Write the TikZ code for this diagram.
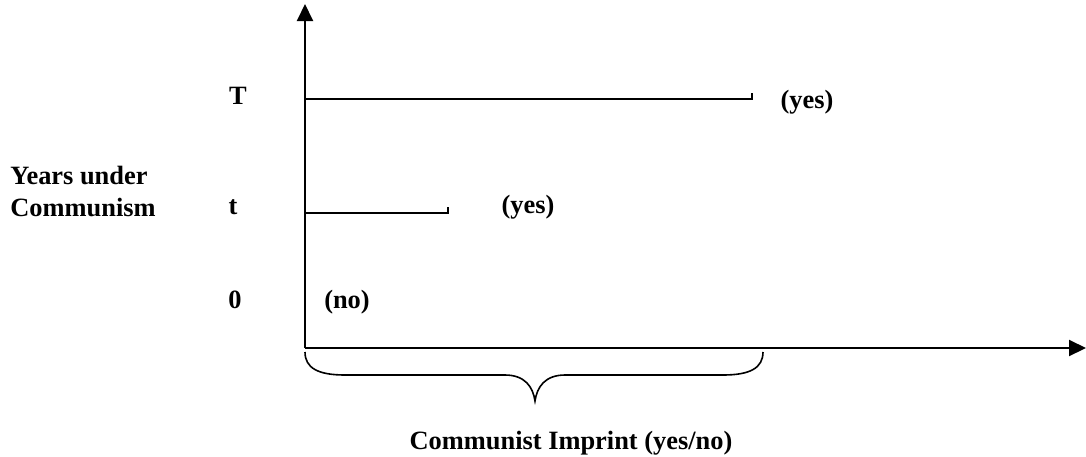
\documentclass[tikz,border=0pt]{standalone}
\usepackage{fontspec}
\setmainfont{Liberation Serif}
\usetikzlibrary{arrows.meta}
\begin{document}
\begin{tikzpicture}[x=0.5pt,y=-0.5pt,
  lbl/.style={font=\fontsize{13.2}{16}\selectfont\bfseries, inner sep=0pt},
  axis/.style={line width=1pt, -{Triangle[length=8.5pt,width=8pt]}},
  bar/.style={line width=0.75pt}]
\useasboundingbox (0,0) rectangle (1086,456);
\coordinate (O) at (305,348);
\coordinate (Ytop) at (305,4);
\coordinate (Xend) at (1086,348);
\draw[axis] (O) -- (Ytop);
\draw[axis] (O) -- (Xend);
% T line
\coordinate (Ta) at (305,99);
\coordinate (Tb) at (752,99);
\coordinate (Tc) at (752,93);
\draw[bar] (Ta) -- (Tb) -- (Tc);
% t line
\coordinate (ta) at (305,213);
\coordinate (tb) at (448,213);
\coordinate (tc) at (448,207);
\draw[bar] (ta) -- (tb) -- (tc);
% labels
\node[lbl] (lT) at (238,96) {T};
\node[lbl] (lt) at (233,207) {t};
\node[lbl] (l0) at (235,300) {0};
\node[lbl] (yesT) at (807,102) {(yes)};
\node[lbl] (yest) at (528,207) {(yes)};
\node[lbl] (no) at (347,302) {(no)};
\node[lbl, align=left, anchor=west] (ylab) at (10,191) {Years under\\Communism};
\node[lbl] (xlab) at (571,443) {Communist Imprint (yes/no)};
% brace
\coordinate (Bl) at (305,352);
\coordinate (Br) at (763,352);
\coordinate (Bm) at (535,401);
\draw[line width=0.8pt] (Bl) .. controls (305,368) and (318,375) .. (345,375)
  -- (505,375) .. controls (525,375) and (533,387) .. (Bm)
  .. controls (537,387) and (545,375) .. (565,375)
  -- (723,375) .. controls (750,375) and (763,368) .. (Br);
\end{tikzpicture}
\end{document}
